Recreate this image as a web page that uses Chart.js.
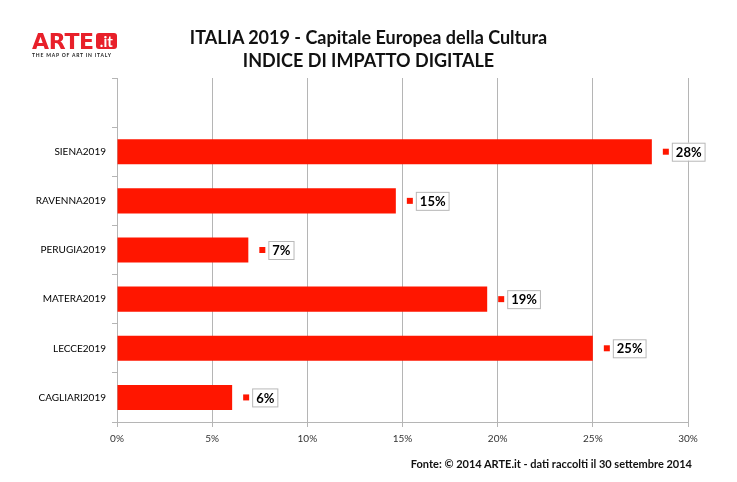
<!DOCTYPE html>
<html>
<head>
<meta charset="utf-8">
<script src="https://cdn.jsdelivr.net/npm/chart.js@4.4.0/dist/chart.umd.min.js"></script>
<style>
  body { margin: 0; background: #fff; font-family: Lato, sans-serif; }
  #wrap { position: relative; width: 737px; height: 482px; }
  canvas { position: absolute; left: 0; top: 0; }
  .title { position: absolute; left: 0; width: 737px; text-align: center; font-weight: bold; font-size: 18px; color: #111; line-height: 20px; }
  .logo { position: absolute; left: 32px; top: 31px; }
  .logo .arte { font-family: "DejaVu Sans", sans-serif; font-weight: bold; font-size: 22px; color: #e8202a; line-height: 21px; letter-spacing: -0.3px; }
  .logo .it { display: inline-block; background: #e8202a; color: #fff; font-size: 15px; font-weight: bold; border-radius: 3px; padding: 0 4px; line-height: 16px; vertical-align: 2px; margin-left: 2px; }
  .logo .tag { font-size: 5px; font-weight: bold; letter-spacing: 0.8px; color: #222; margin-top: 0px; white-space: nowrap; }
  .footer { position: absolute; right: 45px; top: 457px; font-weight: bold; font-size: 11px; color: #111; }
</style>
</head>
<body>
<div id="wrap">
  <canvas id="chart" width="737" height="482"></canvas>
  <div class="logo"><span class="arte">ARTE</span><span class="it">.it</span><div class="tag">THE MAP OF ART IN ITALY</div></div>
  <div class="title" style="top:27px">ITALIA 2019 - Capitale Europea della Cultura</div>
  <div class="title" style="top:50px">INDICE DI IMPATTO DIGITALE</div>
  <div class="footer">Fonte: © 2014 ARTE.it - dati raccolti il 30 settembre 2014</div>
</div>
<script>
const cities = ['', 'SIENA2019', 'RAVENNA2019', 'PERUGIA2019', 'MATERA2019', 'LECCE2019', 'CAGLIARI2019'];
const indexValues = [null, 28.1, 14.65, 6.9, 19.45, 25.0, 6.05];
const valueLabels = ['', '28%', '15%', '7%', '19%', '25%', '6%'];
const xTicks = [0, 5, 10, 15, 20, 25, 30];

const red = 'rgb(255,22,0)';

const labelPlugin = {
  id: 'valueBoxes',
  afterDatasetsDraw(chart) {
    const ctx = chart.ctx;
    const meta = chart.getDatasetMeta(0);
    ctx.save();
    ctx.font = 'bold 13px Lato';
    ctx.textBaseline = 'middle';
    meta.data.forEach((bar, i) => {
      if (indexValues[i] == null) return;
      const x = bar.x;
      const y = bar.y;
      ctx.fillStyle = red;
      ctx.fillRect(x + 11, y - 3, 6, 6);
      const txt = valueLabels[i];
      const w = ctx.measureText(txt).width + 7;
      const bx = x + 20, by = y - 9;
      ctx.fillStyle = '#fff';
      ctx.fillRect(bx, by, w, 18);
      ctx.strokeStyle = '#b8b8b8';
      ctx.lineWidth = 1;
      ctx.strokeRect(bx + 0.5, by + 0.5, w, 18);
      ctx.fillStyle = '#000';
      ctx.textAlign = 'center';
      ctx.fillText(txt, bx + w / 2 + 0.5, y + 1);
    });
    ctx.restore();
  }
};

new Chart(document.getElementById('chart'), {
  type: 'bar',
  data: {
    labels: cities,
    datasets: [{
      data: indexValues,
      backgroundColor: red,
      borderWidth: 0,
      categoryPercentage: 1,
      barPercentage: 0.51
    }]
  },
  options: {
    indexAxis: 'y',
    responsive: false,
    animation: false,
    layout: { padding: { top: 78, right: 49, bottom: 0, left: 0 } },
    plugins: { legend: { display: false }, tooltip: { enabled: false }, title: { display: false } },
    scales: {
      x: {
        min: 0,
        max: 30,
        afterFit(scale) { scale.height = 60; },
        afterBuildTicks(scale) { scale.ticks = xTicks.map(v => ({ value: v })); },
        grid: { color: '#b5b5b5', lineWidth: 1, tickLength: 5, drawTicks: true },
        border: { color: '#b5b5b5' },
        ticks: {
          padding: 6,
          color: '#333',
          font: { family: 'Lato', size: 10 },
          callback: v => v + '%'
        }
      },
      y: {
        afterFit(scale) { scale.width = 117; },
        grid: { drawOnChartArea: false, color: '#b5b5b5', tickLength: 5 },
        border: { color: '#b5b5b5' },
        ticks: {
          padding: 6,
          color: '#000',
          font: { family: 'Lato', size: 10 }
        }
      }
    }
  },
  plugins: [labelPlugin]
});
</script>
</body>
</html>
